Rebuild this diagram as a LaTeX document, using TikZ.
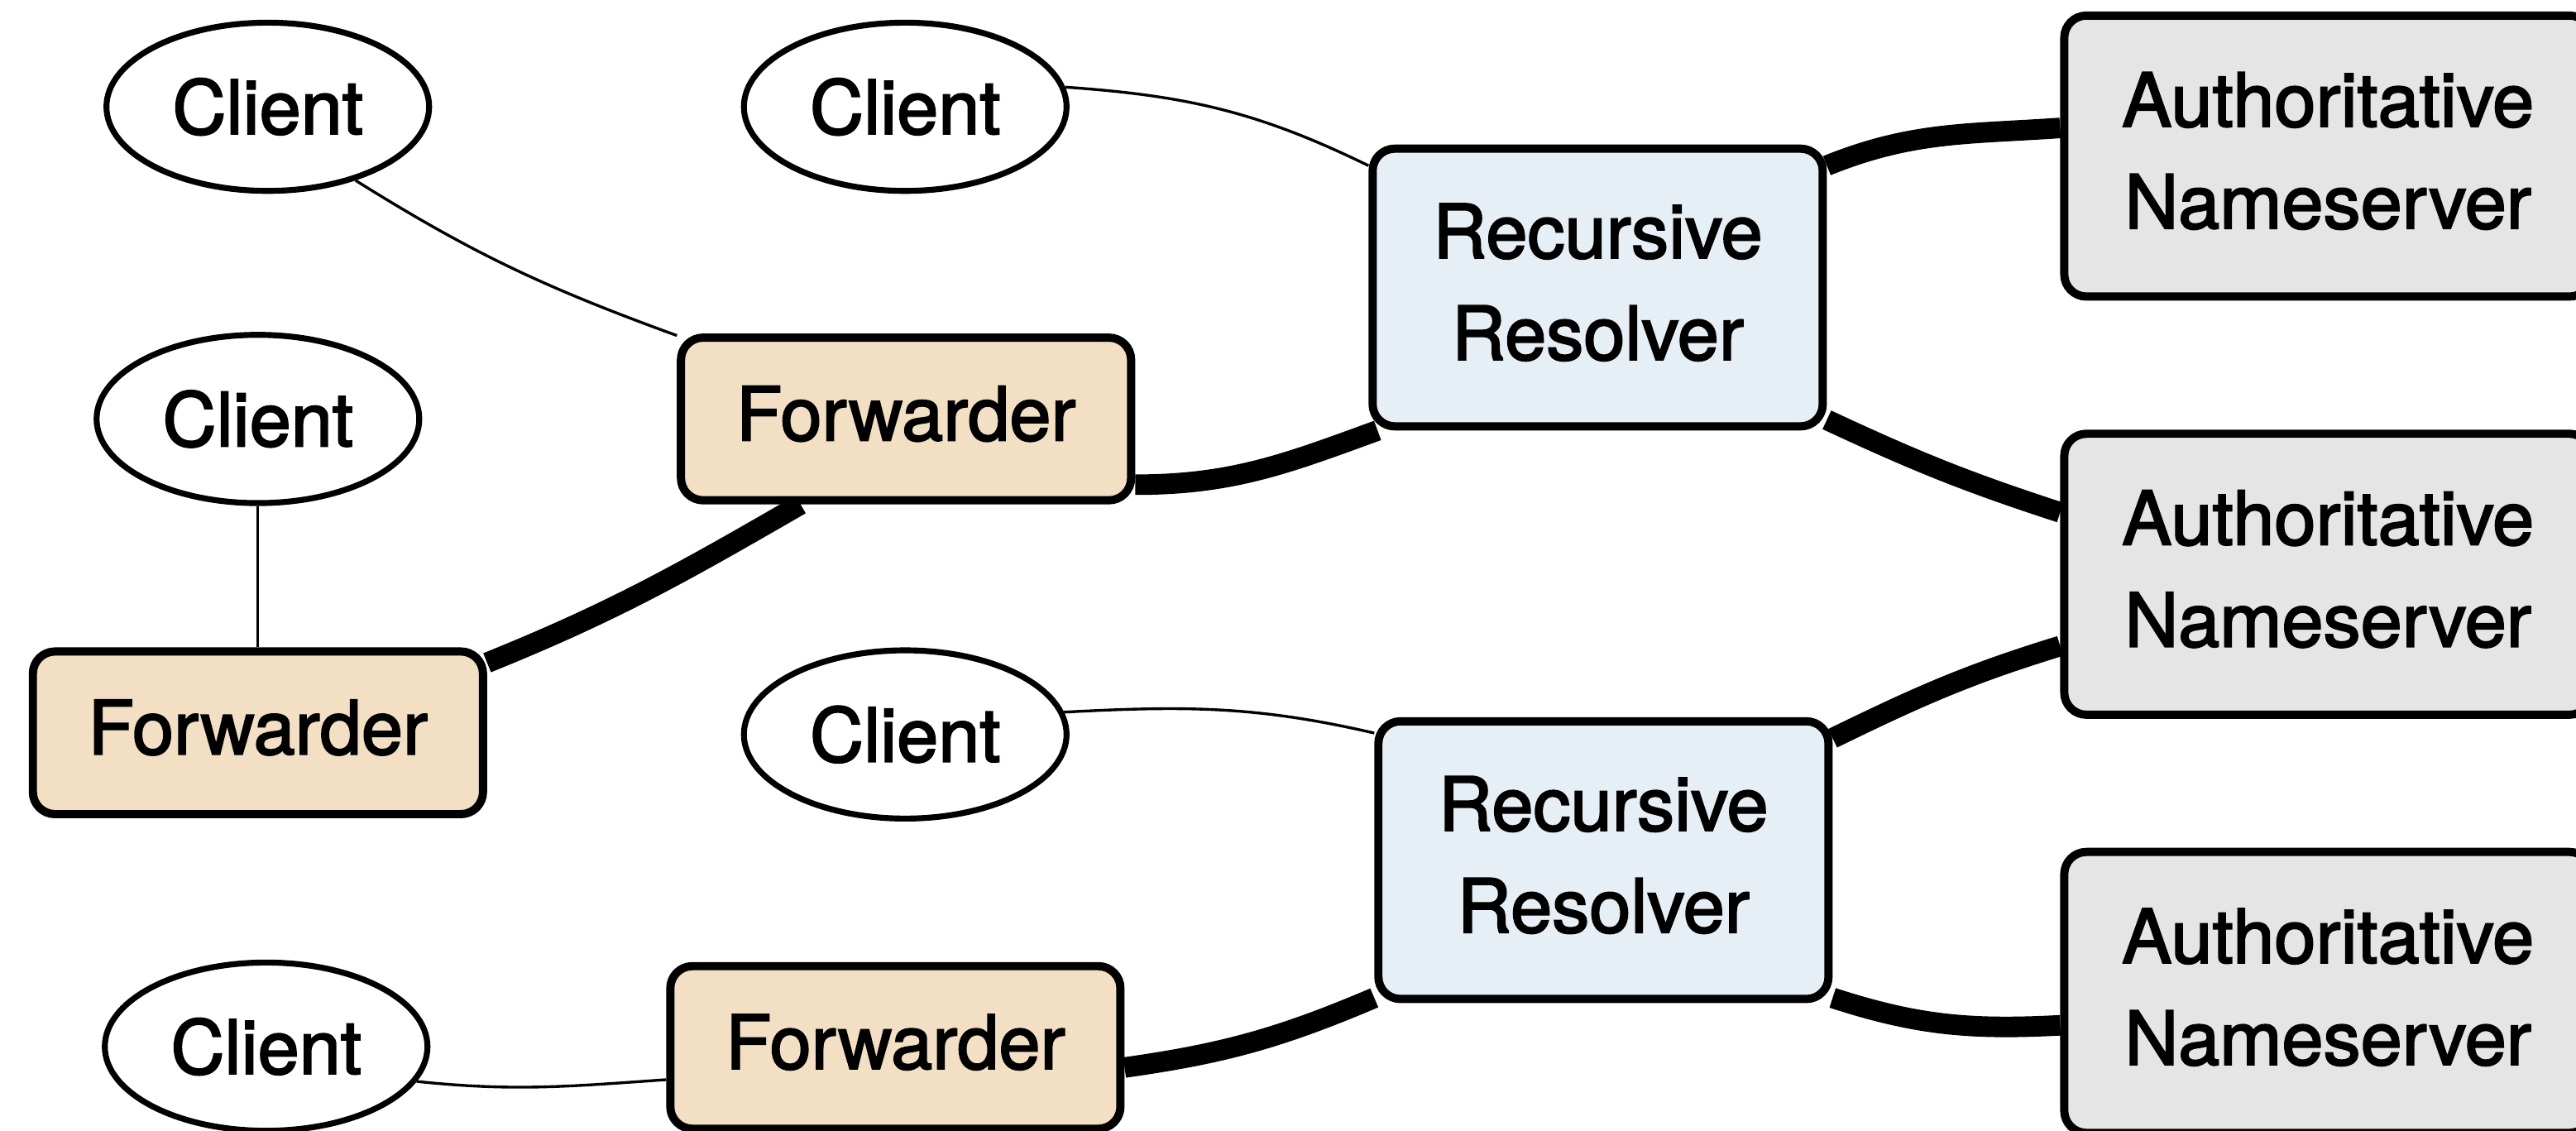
\documentclass[tikz,border=0pt]{standalone}
\usepackage{fontspec}
\setmainfont{TeX Gyre Heros}[FakeBold=2.2]
\usetikzlibrary{shapes.geometric}
\definecolor{fwdfill}{RGB}{242,223,196}
\definecolor{resfill}{RGB}{230,238,246}
\definecolor{authfill}{RGB}{229,229,229}
\pgfdeclarelayer{links}
\pgfsetlayers{links,main}
\begin{document}
\begin{tikzpicture}[x=0.5pt,y=0.5pt,
  font=\fontsize{22.7}{31}\selectfont,
  box/.style={draw, line width=2.5pt, rounded corners=6.75pt, inner sep=0pt,
              align=center, text depth=3.5pt},
  fwd/.style={box, fill=fwdfill, minimum width=137pt, minimum height=49.5pt},
  res/.style={box, fill=resfill, minimum width=137pt, minimum height=84.5pt},
  auth/.style={box, fill=authfill, minimum width=160.5pt, minimum height=85.5pt},
  client/.style={ellipse, draw, line width=1.8pt, fill=white, inner sep=0pt,
                 minimum width=98.2pt, minimum height=51.2pt},
  thin link/.style={line width=0.85pt},
  thick link/.style={line width=6.25pt}]
\useasboundingbox (0,0) rectangle (1568,688);

% clients
\node[client] (cA) at (163,623) {Client};
\node[client] (cB) at (551,623) {Client};
\node[client] (cC) at (157,433) {Client};
\node[client] (cD) at (551,241) {Client};
\node[client] (cE) at (162,51)  {Client};

% forwarders
\node[fwd] (fw1) at (551.5,433) {Forwarder};
\node[fwd] (fw2) at (157,242)   {Forwarder};
\node[fwd] (fw3) at (545,50.5)  {Forwarder};

% recursive resolvers
\node[res] (rr1) at (972.5,513) {Recursive\\Resolver};
\node[res] (rr2) at (976,164.5) {Recursive\\Resolver};

% authoritative nameservers
\node[auth] (an1) at (1417,593)   {Authoritative\\Nameserver};
\node[auth] (an2) at (1417,338.5) {Authoritative\\Nameserver};
\node[auth] (an3) at (1417,84)    {Authoritative\\Nameserver};

\begin{pgfonlayer}{links}
  % client connections
  \draw[thin link] (cA.-40) to[out=-32,in=160] (fw1.160);
  \draw[thin link] (cB.7)   to[out=-4,in=154]  (rr1.152);
  \draw[thin link] (cC.south) -- (fw2.north);
  \draw[thin link] (cD.8)   to[out=3,in=167]   (rr2.151);
  \draw[thin link] (cE.-13) to[out=-6,in=184]  (fw3.188);
  % forwarding chains
  \draw[thick link] (fw2.17)  to[out=22,in=-150] (fw1.-141);
  \draw[thick link] (fw1.-16) to[out=0,in=-160]  (rr1.-147);
  \draw[thick link] (fw3.-5)  to[out=8,in=-157]  (rr2.-149);
  % resolver to nameserver queries
  \draw[thick link] (rr1.28)  to[out=22,in=184]  (an1.174);
  \draw[thick link] (rr1.-30) to[out=-25,in=162] (an2.167);
  \draw[thick link] (rr2.28)  to[out=26,in=197]  (an2.195);
  \draw[thick link] (rr2.-31) to[out=-18,in=183] (an3.187);
\end{pgfonlayer}
\end{tikzpicture}
\end{document}
